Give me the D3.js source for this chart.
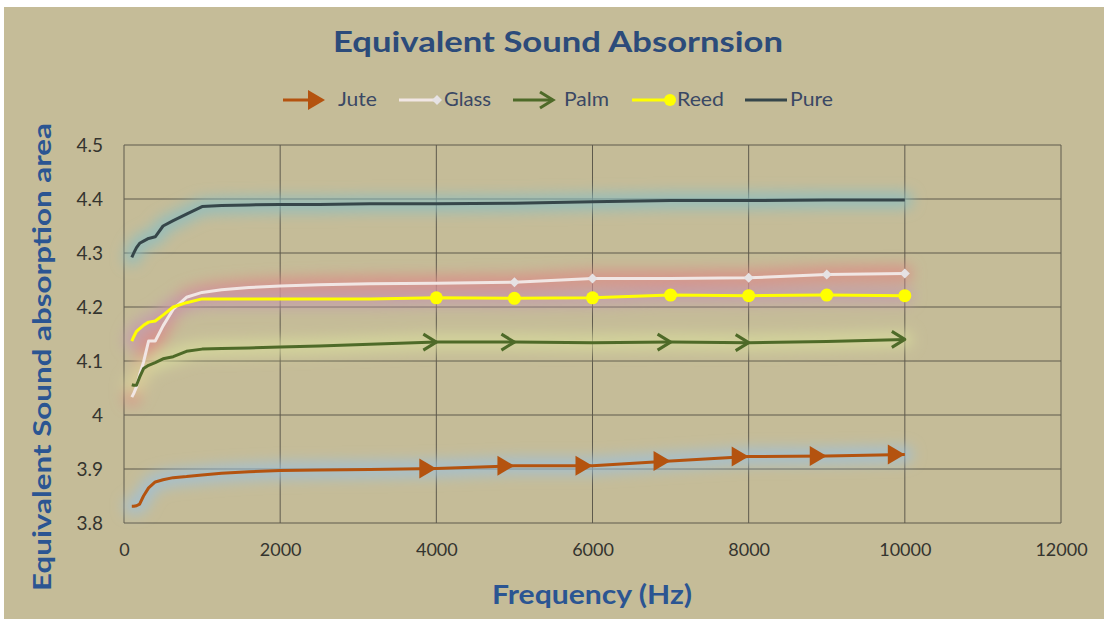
<!DOCTYPE html>
<html>
<head>
<meta charset="utf-8">
<script src="https://cdn.jsdelivr.net/npm/d3@7"></script>
<style>
  html, body { margin: 0; padding: 0; background: #ffffff; }
  #chart { width: 1104px; height: 619px; }
  text { font-family: Lato, "Open Sans", sans-serif; }
</style>
</head>
<body>
<div id="chart"></div>
<script>
// Frequências (Hz) e valores
const freqs = [100, 125, 160, 200, 250, 315, 400, 500, 630, 800, 1000, 1250, 1600, 2000, 2500, 3150, 4000, 5000, 6000, 7000, 8000, 9000, 10000];

const jute  = [3.831, 3.831, 3.832, 3.835, 3.850, 3.865, 3.876, 3.880, 3.884, 3.886, 3.889, 3.892, 3.895, 3.897, 3.898, 3.899, 3.901, 3.906, 3.906, 3.915, 3.923, 3.924, 3.927];
const glass = [4.033, 4.040, 4.052, 4.075, 4.098, 4.137, 4.137, 4.165, 4.196, 4.218, 4.227, 4.232, 4.236, 4.239, 4.241, 4.243, 4.244, 4.246, 4.253, 4.253, 4.254, 4.260, 4.262];
const palm  = [4.056, 4.055, 4.055, 4.070, 4.086, 4.092, 4.097, 4.104, 4.108, 4.118, 4.122, 4.123, 4.124, 4.126, 4.128, 4.131, 4.135, 4.135, 4.134, 4.135, 4.134, 4.136, 4.140];
const reed  = [4.137, 4.145, 4.155, 4.160, 4.166, 4.172, 4.174, 4.185, 4.200, 4.208, 4.215, 4.215, 4.215, 4.215, 4.215, 4.215, 4.217, 4.216, 4.217, 4.222, 4.221, 4.222, 4.221];
const pure  = [4.292, 4.300, 4.310, 4.318, 4.322, 4.327, 4.330, 4.350, 4.360, 4.372, 4.386, 4.388, 4.389, 4.390, 4.390, 4.391, 4.391, 4.392, 4.395, 4.397, 4.397, 4.398, 4.398];

// Frequências onde aparecem os marcadores de cada série
const juteMarks  = [4000, 5000, 6000, 7000, 8000, 9000, 10000];
const glassMarks = [5000, 6000, 8000, 9000, 10000];
const palmMarks  = [4000, 5000, 7000, 8000, 10000];
const reedMarks  = [4000, 5000, 6000, 7000, 8000, 9000, 10000];

const seriesNames = ["Jute", "Glass", "Palm", "Reed", "Pure"];
const xTicks = [0, 2000, 4000, 6000, 8000, 10000, 12000];
const yTicks = [3.8, 3.9, 4, 4.1, 4.2, 4.3, 4.4, 4.5];

const W = 1104, H = 619;
const margin = {top: 145, right: 43, bottom: 96, left: 124};

const svg = d3.select("#chart")
    .append("svg")
    .attr("width", W)
    .attr("height", H);

// Fundo cáqui (com a borda branca fina no topo e à esquerda)
svg.append("rect")
    .attr("x", 4).attr("y", 7)
    .attr("width", W - 4).attr("height", H - 7)
    .attr("fill", "#c5bc98");

const x = d3.scaleLinear()
    .domain([0, 12000])
    .range([margin.left, W - margin.right]);

const y = d3.scaleLinear()
    .domain([3.8, 4.5])
    .range([H - margin.bottom, margin.top]);

// Filtro de desfoque para o brilho das linhas
const defs = svg.append("defs");
defs.append("filter")
    .attr("id", "glow")
    .attr("x", "-10%").attr("y", "-100%")
    .attr("width", "120%").attr("height", "300%")
    .append("feGaussianBlur")
    .attr("stdDeviation", 7);

// Grade
const grid = svg.append("g");
grid.selectAll(".gy")
    .data(yTicks)
    .join("line")
    .attr("x1", x(0)).attr("x2", x(12000))
    .attr("y1", d => y(d)).attr("y2", d => y(d))
    .attr("stroke", "#5e5a4c")
    .attr("stroke-width", 1);
grid.selectAll(".gx")
    .data(xTicks)
    .join("line")
    .attr("x1", d => x(d)).attr("x2", d => x(d))
    .attr("y1", y(3.8)).attr("y2", y(4.5))
    .attr("stroke", "#5e5a4c")
    .attr("stroke-width", 1);

// Eixos
const xAxis = svg.append("g")
    .attr("transform", `translate(0,${y(3.8)})`)
    .call(d3.axisBottom(x).tickValues(xTicks).tickSize(0).tickPadding(20).tickFormat(d3.format("d")));
const yAxis = svg.append("g")
    .attr("transform", `translate(${x(0)},0)`)
    .call(d3.axisLeft(y).tickValues(yTicks).tickSize(0).tickPadding(21).tickFormat(d => String(d)));
[xAxis, yAxis].forEach(a => {
    a.select(".domain").remove();
    a.selectAll("text")
        .attr("fill", "#34342f")
        .style("font-family", "Lato, sans-serif")
        .style("font-size", "18px");
});
yAxis.selectAll("text").style("font-size", "19px");

const line = d3.line()
    .x(d => x(d[0]))
    .y(d => y(d[1]));

const series = [
    {name: "Jute",  values: jute,  color: "#b4530f", glow: "#9cc0dc"},
    {name: "Glass", values: glass, color: "#f1e6e4", glow: "#dc8a84"},
    {name: "Palm",  values: palm,  color: "#4e6a28", glow: "#d8dc9c"},
    {name: "Reed",  values: reed,  color: "#ffff00", glow: "#c29aae"},
    {name: "Pure",  values: pure,  color: "#36464a", glow: "#88bec4"}
];

// Brilho (por baixo)
const glowG = svg.append("g").attr("filter", "url(#glow)");
series.forEach(s => {
    glowG.append("path")
        .datum(freqs.map((f, i) => [f, s.values[i]]))
        .attr("d", line)
        .attr("fill", "none")
        .attr("stroke", s.glow)
        .attr("stroke-width", 16)
        .attr("stroke-opacity", 0.8)
        .attr("stroke-linecap", "round");
});

// Linhas
series.forEach(s => {
    svg.append("path")
        .datum(freqs.map((f, i) => [f, s.values[i]]))
        .attr("d", line)
        .attr("fill", "none")
        .attr("stroke", s.color)
        .attr("stroke-width", 3)
        .attr("stroke-linejoin", "round");
});

function valueAt(arr, f) {
    return arr[freqs.indexOf(f)];
}

// Marcadores: Jute (triângulos com a ponta no ponto)
svg.append("g").selectAll("path")
    .data(juteMarks)
    .join("path")
    .attr("transform", d => `translate(${x(d)},${y(valueAt(jute, d))})`)
    .attr("d", "M0,0 L-17,-10 L-17,10 Z")
    .attr("fill", "#b4530f");

// Palm (setas abertas)
svg.append("g").selectAll("path")
    .data(palmMarks)
    .join("path")
    .attr("transform", d => `translate(${x(d)},${y(valueAt(palm, d))})`)
    .attr("d", "M-13,-8 L0,0 L-13,8")
    .attr("fill", "none")
    .attr("stroke", "#4e6a28")
    .attr("stroke-width", 3)
    .attr("stroke-linejoin", "round");

// Glass (losangos)
svg.append("g").selectAll("path")
    .data(glassMarks)
    .join("path")
    .attr("transform", d => `translate(${x(d)},${y(valueAt(glass, d))})`)
    .attr("d", "M0,-5 L5,0 L0,5 L-5,0 Z")
    .attr("fill", "#e6e2e4");

// Reed (círculos)
svg.append("g").selectAll("circle")
    .data(reedMarks)
    .join("circle")
    .attr("cx", d => x(d))
    .attr("cy", d => y(valueAt(reed, d)))
    .attr("r", 6.5)
    .attr("fill", "#ffff00");

// Títulos
svg.append("text")
    .attr("x", 558).attr("y", 52)
    .attr("text-anchor", "middle")
    .attr("fill", "#2c4b7a")
    .style("font-size", "29px")
    .style("font-weight", "bold")
    .attr("textLength", 450)
    .attr("lengthAdjust", "spacingAndGlyphs")
    .text("Equivalent Sound Absornsion");

svg.append("text")
    .attr("x", 592).attr("y", 604)
    .attr("text-anchor", "middle")
    .attr("fill", "#2b5592")
    .style("font-size", "27px")
    .style("font-weight", "bold")
    .attr("textLength", 200)
    .attr("lengthAdjust", "spacingAndGlyphs")
    .text("Frequency (Hz)");

svg.append("text")
    .attr("transform", "translate(51,357) rotate(-90)")
    .attr("text-anchor", "middle")
    .attr("fill", "#2b5592")
    .style("font-size", "25px")
    .style("font-weight", "bold")
    .attr("textLength", 468)
    .attr("lengthAdjust", "spacingAndGlyphs")
    .text("Equivalent Sound absorption area");

// Legenda
const legendY = 100;
const legendItems = [
    {name: seriesNames[0], x1: 283, x2: 325, tx: 338, tl: 39},
    {name: seriesNames[1], x1: 399, x2: 440, tx: 444, tl: 47},
    {name: seriesNames[2], x1: 513, x2: 553, tx: 564, tl: 45},
    {name: seriesNames[3], x1: 632, x2: 672, tx: 677, tl: 47},
    {name: seriesNames[4], x1: 745, x2: 787, tx: 790, tl: 43}
];
const legend = svg.append("g");
legendItems.forEach((it, i) => {
    const s = series[i];
    legend.append("line")
        .attr("x1", it.x1).attr("x2", s.name === "Jute" ? it.x2 - 12 : it.x2)
        .attr("y1", legendY).attr("y2", legendY)
        .attr("stroke", s.color)
        .attr("stroke-width", 3);
    if (s.name === "Jute") {
        legend.append("path")
            .attr("transform", `translate(${it.x2},${legendY})`)
            .attr("d", "M0,0 L-17,-10 L-17,10 Z")
            .attr("fill", s.color);
    } else if (s.name === "Palm") {
        legend.append("path")
            .attr("transform", `translate(${it.x2},${legendY})`)
            .attr("d", "M-13,-8 L0,0 L-13,8")
            .attr("fill", "none")
            .attr("stroke", s.color)
            .attr("stroke-width", 3);
    } else if (s.name === "Glass") {
        legend.append("path")
            .attr("transform", `translate(${it.x2 - 3},${legendY})`)
            .attr("d", "M0,-5 L5,0 L0,5 L-5,0 Z")
            .attr("fill", "#e6e2e4");
    } else if (s.name === "Reed") {
        legend.append("circle")
            .attr("cx", it.x2 - 2).attr("cy", legendY)
            .attr("r", 6)
            .attr("fill", "#ffff00");
    }
    legend.append("text")
        .attr("x", it.tx).attr("y", legendY + 6)
        .attr("fill", "#3a4864")
        .style("font-size", "19px")
        .attr("textLength", it.tl)
        .attr("lengthAdjust", "spacingAndGlyphs")
        .text(it.name);
});
</script>
</body>
</html>
